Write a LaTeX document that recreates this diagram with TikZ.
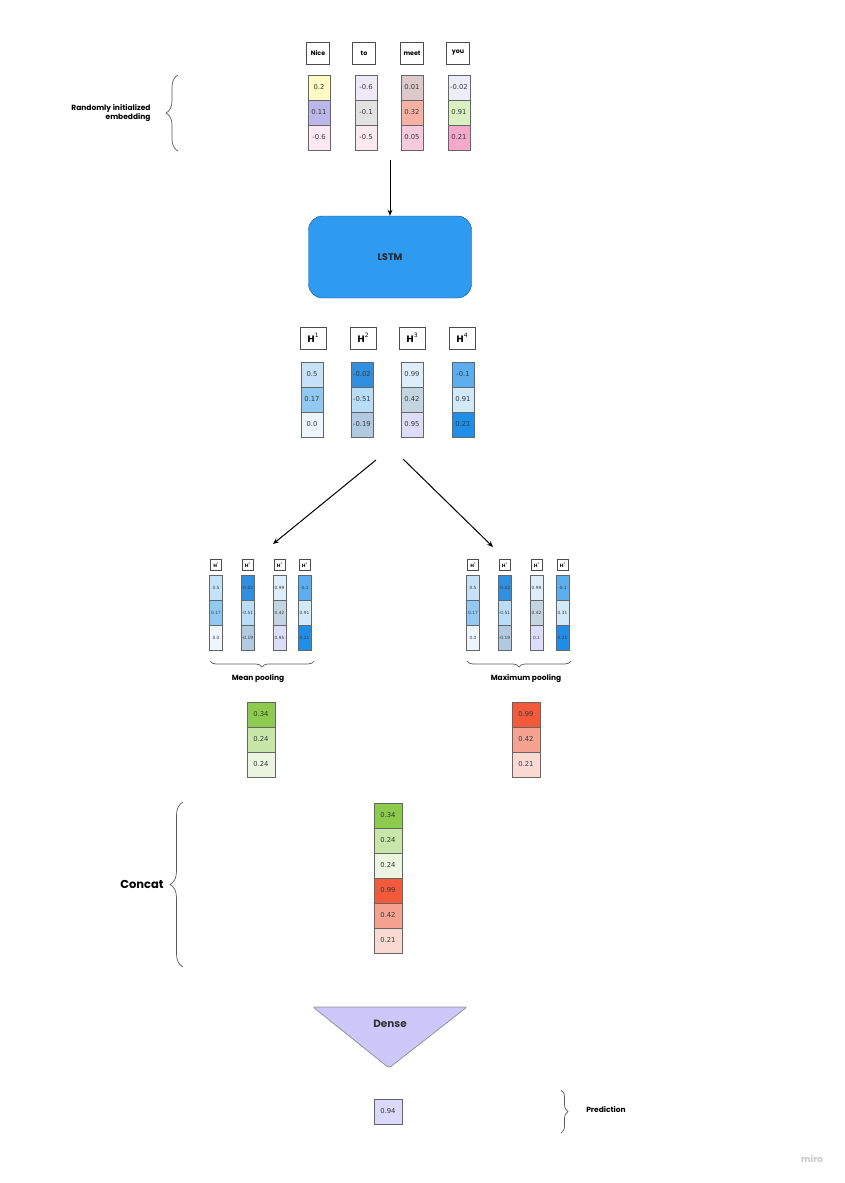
\documentclass[tikz,border=0pt]{standalone}
\usepackage{fontspec}
\setmainfont{Poppins}
\newfontfamily\numfont{DejaVu Sans}
\usetikzlibrary{arrows.meta,decorations.pathreplacing}
\tikzset {>=Stealth}

% cell colours
\definecolor{cellline}{HTML}{666666}
\definecolor{numtext}{HTML}{3A3A3A}
\definecolor{lstmblue}{HTML}{2E9BF0}
\definecolor{lstmedge}{HTML}{1F4F80}
\definecolor{e11}{HTML}{FFFBC4}\definecolor{e12}{HTML}{BDB6EA}\definecolor{e13}{HTML}{FDE8F1}
\definecolor{e21}{HTML}{EDE9F7}\definecolor{e22}{HTML}{E2E2E2}\definecolor{e23}{HTML}{FCE9EF}
\definecolor{e31}{HTML}{DDC9C9}\definecolor{e32}{HTML}{F8B1A2}\definecolor{e33}{HTML}{F5CADD}
\definecolor{e41}{HTML}{EDEDF9}\definecolor{e42}{HTML}{D9F0C3}\definecolor{e43}{HTML}{F2A9CA}
\definecolor{h11}{HTML}{C6E2F8}\definecolor{h12}{HTML}{92C9F2}\definecolor{h13}{HTML}{EEF6FD}
\definecolor{h21}{HTML}{2F8FE0}\definecolor{h22}{HTML}{B9DCF7}\definecolor{h23}{HTML}{B1C9E1}
\definecolor{h31}{HTML}{DDEEFA}\definecolor{h32}{HTML}{C2D5E1}\definecolor{h33}{HTML}{DDDDF9}
\definecolor{h41}{HTML}{5BAFF0}\definecolor{h42}{HTML}{D2E9F9}\definecolor{h43}{HTML}{1F8EE8}
\definecolor{g1}{HTML}{8CCB4E}\definecolor{g2}{HTML}{C8E6A7}\definecolor{g3}{HTML}{EBF5DF}
\definecolor{r1}{HTML}{F25A3B}\definecolor{r2}{HTML}{F6A291}\definecolor{r3}{HTML}{FBD9D3}
\definecolor{densefill}{HTML}{CDC8F9}
\definecolor{predfill}{HTML}{DCD8F9}

\tikzset{
  word/.style={draw=black!70, fill=white, minimum width=23pt, minimum height=22pt,
    inner sep=0pt, font=\fontsize{6.3}{7}\selectfont\bfseries},
  cell/.style={draw=cellline, line width=0.7pt, minimum width=22pt, minimum height=25pt,
    inner sep=0pt, text=numtext, font=\numfont\fontsize{6.8}{7}\selectfont},
  paircell/.style={cell, minimum width=28pt},
  tinycell/.style={cell, minimum width=13pt, font=\numfont\fontsize{4.3}{5}\selectfont},
  hbox/.style={draw=black!70, fill=white, minimum width=26pt, minimum height=22pt,
    inner sep=0pt, font=\numfont\fontsize{9}{10}\selectfont},
  tinyhbox/.style={hbox, minimum width=11pt, minimum height=11pt,
    font=\numfont\fontsize{4.5}{5}\selectfont},
  notetext/.style={font=\fontsize{7.5}{9}\selectfont\bfseries},
  brace/.style={decorate, decoration={brace, amplitude=#1}, draw=black!65, line width=0.7pt},
  brace/.default=6pt,
  flow/.style={->, line width=1pt, >={Stealth[length=6pt,width=5pt]}}
}
\newcommand{\hlab}[1]{{\bfseries H}\raisebox{.6em}{\fontsize{6}{6}\selectfont #1}}
\newcommand{\hsmall}[1]{{\bfseries H}\raisebox{.5em}{\fontsize{2.5}{3}\selectfont #1}}

\begin{document}
\begin{tikzpicture}[x=1pt,y=-1pt]
\useasboundingbox (0,0) rectangle (845,1183);

% words
\node[word] (nice) at (318,53) {Nice};
\node[word] (to)   at (364,53) {to};
\node[word] (meet) at (412,53) {meet};
\node[word] (you)  at (458,53) {you};

% random embedding
\node[cell,fill=e11] (nice1) at (319,87.5)  {0.2};
\node[cell,fill=e12] (nice2) at (319,112.5) {0.11};
\node[cell,fill=e13] (nice3) at (319,137.5) {-0.6};
\node[cell,fill=e21] (to1) at (366,87.5)  {-0.6};
\node[cell,fill=e22] (to2) at (366,112.5) {-0.1};
\node[cell,fill=e23] (to3) at (366,137.5) {-0.5};
\node[cell,fill=e31] (meet1) at (412,87.5)  {0.01};
\node[cell,fill=e32] (meet2) at (412,112.5) {0.32};
\node[cell,fill=e33] (meet3) at (412,137.5) {0.05};
\node[cell,fill=e41] (you1) at (459,87.5)  {-0.02};
\node[cell,fill=e42] (you2) at (459,112.5) {0.91};
\node[cell,fill=e43] (you3) at (459,137.5) {0.21};

\node[notetext, align=right, anchor=east] (embnote) at (154,113.5)
  {Randomly initialized\\embedding};
\draw[brace=12pt] (178,151) -- (178,75);

% LSTM
\node[draw=lstmedge, fill=lstmblue, rounded corners=14pt, minimum width=163pt,
  minimum height=82pt, text=black!85, font=\fontsize{9.5}{11}\selectfont\bfseries]
  (lstm) at (390,257) {LSTM};
\coordinate (embout) at (390,160);
\draw[flow] (embout) -- (lstm.north);

% hidden states
\node[hbox] (H1) at (313,338) {\hlab{1}};
\node[hbox] (H2) at (363,338) {\hlab{2}};
\node[hbox] (H3) at (412,338) {\hlab{3}};
\node[hbox] (H4) at (462,338) {\hlab{4}};

\node[cell,fill=h11] (h1a) at (312,374.5) {0.5};
\node[cell,fill=h12] (h1b) at (312,399.5) {0.17};
\node[cell,fill=h13] (h1c) at (312,424.5) {0.0};
\node[cell,fill=h21] (h2a) at (362,374.5) {-0.02};
\node[cell,fill=h22] (h2b) at (362,399.5) {-0.51};
\node[cell,fill=h23] (h2c) at (362,424.5) {-0.19};
\node[cell,fill=h31] (h3a) at (412,374.5) {0.99};
\node[cell,fill=h32] (h3b) at (412,399.5) {0.42};
\node[cell,fill=h33] (h3c) at (412,424.5) {0.95};
\node[cell,fill=h41] (h4a) at (463,374.5) {-0.1};
\node[cell,fill=h42] (h4b) at (463,399.5) {0.91};
\node[cell,fill=h43] (h4c) at (463,424.5) {0.21};

\coordinate (splitL) at (376,460);
\coordinate (splitR) at (403,459);
\coordinate (poolL) at (273,544);
\coordinate (poolR) at (493,547);
\draw[flow] (splitL) -- (poolL);
\draw[flow] (splitR) -- (poolR);

% mean pooling group
\node[tinyhbox] (mH1) at (216,565)   {\hsmall{1}};
\node[tinyhbox] (mH2) at (247.5,565) {\hsmall{2}};
\node[tinyhbox] (mH3) at (279.5,565) {\hsmall{3}};
\node[tinyhbox] (mH4) at (304.5,565) {\hsmall{4}};
\node[tinycell,fill=h11] (m1a) at (216,588) {0.5};
\node[tinycell,fill=h12] (m1b) at (216,613) {0.17};
\node[tinycell,fill=h13] (m1c) at (216,638) {0.0};
\node[tinycell,fill=h21] (m2a) at (247.5,588) {-0.02};
\node[tinycell,fill=h22] (m2b) at (247.5,613) {-0.51};
\node[tinycell,fill=h23] (m2c) at (247.5,638) {-0.19};
\node[tinycell,fill=h31] (m3a) at (279.5,588) {0.99};
\node[tinycell,fill=h32] (m3b) at (279.5,613) {0.42};
\node[tinycell,fill=h33] (m3c) at (279.5,638) {0.95};
\node[tinycell,fill=h41] (m4a) at (304.5,588) {-0.1};
\node[tinycell,fill=h42] (m4b) at (304.5,613) {0.91};
\node[tinycell,fill=h43] (m4c) at (304.5,638) {0.21};
\draw[brace=6pt] (314,661) -- (210,661);
\node[notetext] (meanlab) at (258,679) {Mean pooling};

% max pooling group
\node[tinyhbox] (xH1) at (473,565)   {\hsmall{1}};
\node[tinyhbox] (xH2) at (504.5,565) {\hsmall{2}};
\node[tinyhbox] (xH3) at (536.5,565) {\hsmall{3}};
\node[tinyhbox] (xH4) at (562.5,565) {\hsmall{4}};
\node[tinycell,fill=h11] (x1a) at (473,588) {0.5};
\node[tinycell,fill=h12] (x1b) at (473,613) {0.17};
\node[tinycell,fill=h13] (x1c) at (473,638) {0.0};
\node[tinycell,fill=h21] (x2a) at (504.5,588) {-0.02};
\node[tinycell,fill=h22] (x2b) at (504.5,613) {-0.51};
\node[tinycell,fill=h23] (x2c) at (504.5,638) {-0.19};
\node[tinycell,fill=h31] (x3a) at (536.5,588) {0.99};
\node[tinycell,fill=h32] (x3b) at (536.5,613) {0.42};
\node[tinycell,fill=h33] (x3c) at (536.5,638) {0.1};
\node[tinycell,fill=h41] (x4a) at (562.5,588) {-0.1};
\node[tinycell,fill=h42] (x4b) at (562.5,613) {0.31};
\node[tinycell,fill=h43] (x4c) at (562.5,638) {0.21};
\draw[brace=6pt] (571,661) -- (467,661);
\node[notetext] (maxlab) at (526,679) {Maximum pooling};

% pooled vectors
\node[paircell,fill=g1] (mean1) at (261,714.5) {0.34};
\node[paircell,fill=g2] (mean2) at (261,739.5) {0.24};
\node[paircell,fill=g3] (mean3) at (261,764.5) {0.24};
\node[paircell,fill=r1] (max1) at (526,714.5) {0.99};
\node[paircell,fill=r2] (max2) at (526,739.5) {0.42};
\node[paircell,fill=r3] (max3) at (526,764.5) {0.21};

% concatenation
\node[paircell,fill=g1] (cat1) at (388,815.5) {0.34};
\node[paircell,fill=g2] (cat2) at (388,840.5) {0.24};
\node[paircell,fill=g3] (cat3) at (388,865.5) {0.24};
\node[paircell,fill=r1] (cat4) at (388,890.5) {0.99};
\node[paircell,fill=r2] (cat5) at (388,915.5) {0.42};
\node[paircell,fill=r3] (cat6) at (388,940.5) {0.21};
\draw[brace=13pt] (183,967) -- (183,802);
\node[font=\fontsize{11.5}{13}\selectfont\bfseries] (catlab) at (142,884) {Concat};

% dense layer
\draw[fill=densefill, draw=black!45, line width=0.7pt, rounded corners=2pt]
  (313,1007) -- (467,1007) -- (389,1068) -- cycle;
\node[font=\fontsize{10.5}{12}\selectfont\bfseries, text=black!80] (dense) at (390,1024) {Dense};

% prediction
\node[paircell,fill=predfill] (pred) at (388,1111.5) {0.94};
\draw[brace=7pt] (561,1090) -- (561,1133);
\node[notetext] (predlab) at (606,1110) {Prediction};

\node[text=black!22, font=\fontsize{9}{10}\selectfont\bfseries] (miro) at (812,1159) {miro};
\end{tikzpicture}
\end{document}
